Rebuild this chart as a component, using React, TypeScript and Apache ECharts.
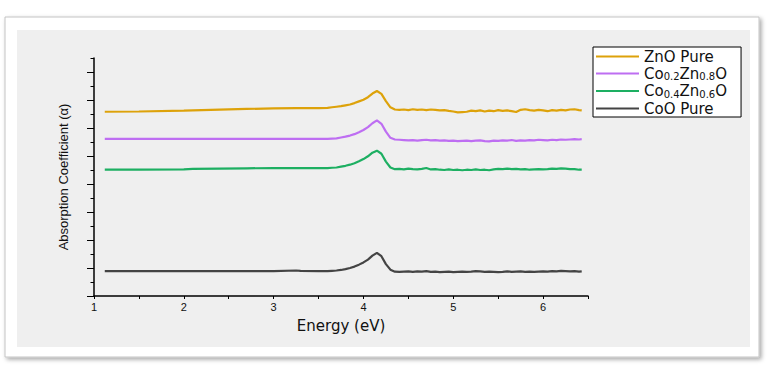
import React, { useEffect, useRef } from "react";
import * as echarts from "echarts";

// Energy grid (eV)
const energy: number[] = [
  1.12, 1.5, 2.0, 2.1, 2.7, 3.0, 3.25, 3.3, 3.5, 3.6,
  3.65, 3.7, 3.75, 3.8, 3.85, 3.9, 3.95, 4.0, 4.05, 4.1, 4.15, 4.2, 4.25, 4.3, 4.35,
  4.4, 4.45, 4.5, 4.55, 4.6, 4.65, 4.7, 4.75, 4.8, 4.85,
  4.9, 4.95, 5.0, 5.05, 5.1, 5.15, 5.2, 5.25, 5.3, 5.35,
  5.4, 5.45, 5.5, 5.55, 5.6, 5.65, 5.7, 5.75, 5.8, 5.85,
  5.9, 5.95, 6.0, 6.05, 6.1, 6.15, 6.2, 6.25, 6.3, 6.35,
  6.4, 6.43,
];

const seriesNames: string[] = ["ZnO Pure", "Co0.2Zn0.8O", "Co0.4Zn0.6O", "CoO Pure"];
const legendLabels: string[] = ["ZnO Pure", "Co{sub|0.2}Zn{sub|0.8}O", "Co{sub|0.4}Zn{sub|0.6}O", "CoO Pure"];
const seriesColors: string[] = ["#DDA20A", "#BE6EF2", "#1DAF62", "#444444"];

const znoPure: number[] = [
  6.58, 6.59, 6.62, 6.63, 6.68, 6.7, 6.71, 6.71, 6.71, 6.72,
  6.74, 6.76, 6.78, 6.81, 6.84, 6.89, 6.95, 7.01, 7.1, 7.23, 7.32, 7.22, 6.96, 6.74, 6.66,
  6.65, 6.66, 6.64, 6.67, 6.65, 6.66, 6.64, 6.66, 6.65, 6.63,
  6.64, 6.61, 6.59, 6.56, 6.57, 6.58, 6.62, 6.6, 6.63, 6.59,
  6.62, 6.6, 6.64, 6.61, 6.63, 6.6, 6.57, 6.65, 6.67, 6.64,
  6.62, 6.65, 6.63, 6.6, 6.64, 6.62, 6.65, 6.63, 6.66, 6.67,
  6.64, 6.63,
];

const co02: number[] = [
  5.61, 5.61, 5.61, 5.61, 5.61, 5.61, 5.61, 5.61, 5.61, 5.61,
  5.62, 5.63, 5.66, 5.69, 5.73, 5.78, 5.85, 5.93, 6.03, 6.17, 6.27, 6.15, 5.87, 5.65, 5.59,
  5.58, 5.57, 5.56, 5.57, 5.55, 5.57, 5.58, 5.56, 5.57, 5.55,
  5.56, 5.54, 5.55, 5.53, 5.54, 5.55, 5.53, 5.55, 5.56, 5.53,
  5.52, 5.55, 5.54, 5.56, 5.55, 5.57, 5.54, 5.56, 5.55, 5.57,
  5.56, 5.58, 5.57, 5.56, 5.58, 5.57, 5.59, 5.58, 5.59, 5.6,
  5.59, 5.6,
];

const co04: number[] = [
  4.51, 4.51, 4.52, 4.54, 4.56, 4.57, 4.57, 4.57, 4.57, 4.57,
  4.58, 4.59, 4.62, 4.65, 4.69, 4.74, 4.81, 4.89, 4.99, 5.12, 5.19, 5.08, 4.8, 4.59, 4.53,
  4.54, 4.52, 4.55, 4.53, 4.52, 4.54, 4.57, 4.52, 4.53, 4.51,
  4.5, 4.52, 4.5, 4.51, 4.49, 4.51, 4.5, 4.52, 4.5, 4.51,
  4.49, 4.52, 4.54, 4.53, 4.55, 4.53, 4.54, 4.52, 4.53, 4.51,
  4.52, 4.53, 4.52, 4.53, 4.55, 4.54, 4.56, 4.55, 4.53, 4.53,
  4.51, 4.51,
];

const cooPure: number[] = [
  0.89, 0.89, 0.89, 0.89, 0.89, 0.89, 0.91, 0.9, 0.89, 0.89,
  0.9, 0.91, 0.93, 0.96, 1.0, 1.05, 1.12, 1.2, 1.3, 1.44, 1.54, 1.42, 1.14, 0.94, 0.87,
  0.86, 0.87, 0.88, 0.86, 0.88, 0.87, 0.89, 0.86, 0.87, 0.85,
  0.86, 0.87, 0.85, 0.86, 0.87, 0.86, 0.87, 0.89, 0.88, 0.86,
  0.87, 0.86, 0.85, 0.86, 0.88, 0.86, 0.87, 0.88, 0.86, 0.87,
  0.86, 0.87, 0.88, 0.87, 0.89, 0.88, 0.9, 0.89, 0.88, 0.89,
  0.87, 0.88,
];

const allSeries: number[][] = [znoPure, co02, co04, cooPure];

export default function App() {
  const ref = useRef<HTMLDivElement>(null);
  useEffect(() => {
    if (!ref.current) return;
    const chart = echarts.init(ref.current, undefined, { renderer: "svg" });
    const labelMap: Record<string, string> = {};
    seriesNames.forEach((n, i) => (labelMap[n] = legendLabels[i]));
    chart.setOption({
      animation: false,
      backgroundColor: "#ffffff",
      textStyle: { fontFamily: "Liberation Sans" },
      graphic: {
        elements: [
          {
            type: "rect",
            z: -10,
            silent: true,
            shape: { x: 5, y: 17, width: 754, height: 340 },
            style: {
              fill: "#ffffff",
              stroke: "#c4c4c4",
              lineWidth: 1,
              shadowBlur: 4,
              shadowOffsetX: 2,
              shadowOffsetY: 2,
              shadowColor: "rgba(0,0,0,0.35)",
            },
          },
          {
            type: "rect",
            z: -9,
            silent: true,
            shape: { x: 17, y: 30, width: 733, height: 317 },
            style: { fill: "#efefef" },
          },
        ],
      },
      legend: {
        orient: "vertical",
        left: 593,
        top: 47,
        backgroundColor: "#ffffff",
        borderColor: "#000000",
        borderWidth: 1,
        borderRadius: 0,
        padding: [2, 14, 1, 3],
        icon: "rect",
        itemWidth: 43,
        itemHeight: 2,
        itemGap: 2,
        data: seriesNames,
        formatter: (name: string) => labelMap[name] || name,
        textStyle: {
          fontFamily: "DejaVu Sans",
          fontSize: 15,
          color: "#111111",
          rich: {
            sub: { fontFamily: "DejaVu Sans", fontSize: 10, color: "#111111", padding: [6, 0, 0, 0] },
          },
        },
      },
      grid: [
        { left: 94, right: 181, top: 58, bottom: 74 },
        { left: 94, right: 181, top: 72, bottom: 74 },
      ],
      xAxis: [
        {
          type: "value",
          gridIndex: 0,
          min: 1,
          max: 6.5,
          interval: 0.5,
          name: "Energy (eV)",
          nameLocation: "middle",
          nameGap: 22,
          nameTextStyle: { fontFamily: "DejaVu Sans", fontSize: 15, color: "#111111" },
          axisLine: { lineStyle: { color: "#000000", width: 1.5 } },
          axisTick: { length: 3, lineStyle: { color: "#000000" } },
          axisLabel: {
            fontSize: 11,
            color: "#111111",
            margin: 5,
            formatter: (v: number) => (Number.isInteger(v) ? String(v) : ""),
          },
          splitLine: { show: false },
        },
        {
          type: "value",
          gridIndex: 1,
          min: 1,
          max: 6.5,
          show: false,
        },
      ],
      yAxis: [
        {
          type: "value",
          gridIndex: 0,
          min: 0,
          max: 8.5,
          interval: 0.5,
          name: "Absorption Coefficient (α)",
          nameLocation: "middle",
          nameGap: 24,
          nameTextStyle: { fontSize: 13, color: "#111111" },
          axisLine: { show: true, lineStyle: { color: "#000000", width: 1.5 } },
          axisTick: { show: true, length: 3.5, lineStyle: { color: "#000000" } },
          axisLabel: { show: false },
          splitLine: { show: false },
        },
        {
          type: "value",
          gridIndex: 1,
          min: 0,
          max: 8,
          interval: 1,
          axisLine: { show: false },
          axisTick: { show: true, length: 7, lineStyle: { color: "#000000" } },
          axisLabel: { show: false },
          splitLine: { show: false },
        },
      ],
      series: seriesNames.map((name, si) => ({
        name,
        type: "line",
        xAxisIndex: 0,
        yAxisIndex: 0,
        symbol: "none",
        color: seriesColors[si],
        lineStyle: { width: 2.2, color: seriesColors[si] },
        data: energy.map((e, i) => [e, allSeries[si][i]]),
      })),
    });
    return () => chart.dispose();
  }, []);
  return (
    <div
      ref={ref}
      style={{ position: "absolute", left: 0, top: 0, width: 769, height: 370 }}
    />
  );
}
